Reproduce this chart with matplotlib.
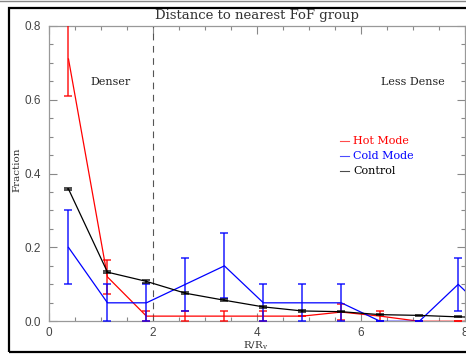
import matplotlib
matplotlib.use("Agg")
import matplotlib.pyplot as plt
from matplotlib.patches import Rectangle
from matplotlib.lines import Line2D
from matplotlib.ticker import MultipleLocator

plt.rcParams['mathtext.fontset'] = 'dejavuserif'

r_bins = [0.375, 1.125, 1.875, 2.625, 3.375, 4.125, 4.875, 5.625, 6.375, 7.125, 7.875, 8.625]

hot_vals = [0.71, 0.12, 0.014, 0.014, 0.014, 0.014, 0.014, 0.025, 0.014, 0.0, 0.0, 0.0]
hot_err = [0.10, 0.045, 0.014, 0.014, 0.014, 0.014, 0.0, 0.022, 0.014, 0.0, 0.0, 0.0]

cold_vals = [0.20, 0.05, 0.05, 0.10, 0.15, 0.05, 0.05, 0.05, 0.0, 0.0, 0.10, 0.0]
cold_err = [0.10, 0.05, 0.05, 0.071, 0.088, 0.05, 0.05, 0.05, 0.0, 0.0, 0.072, 0.0]

ctrl_vals = [0.358, 0.133, 0.108, 0.076, 0.057, 0.039, 0.028, 0.026, 0.018, 0.016, 0.012, 0.010]
ctrl_err = [0.004, 0.003, 0.003, 0.002, 0.002, 0.002, 0.002, 0.002, 0.001, 0.001, 0.001, 0.001]

legend_labels = ["Hot Mode", "Cold Mode", "Control"]
colors = ["#ff0000", "#0000ff", "#000000"]

W, H = 466, 354
fig = plt.figure(figsize=(W/100, H/100), dpi=100)
ax = fig.add_axes([49/W, 1-321.3/H, (464.7-49)/W, (321.3-25.7)/H])

series = [(hot_vals, hot_err), (cold_vals, cold_err), (ctrl_vals, ctrl_err)]
for (vals, errs), c in zip(series, colors):
    ax.plot(r_bins, vals, color=c, lw=0.9, zorder=3)
    ax.errorbar(r_bins, vals, yerr=errs, fmt='none', ecolor=c, elinewidth=1.3,
                capsize=2.8, capthick=1.3, alpha=0.75, zorder=3)

ax.axvline(2, color='#555555', lw=0.8, ls=(0, (6, 5)), zorder=2)

ax.set_xlim(0, 8)
ax.set_ylim(0, 0.8)
ax.xaxis.set_minor_locator(MultipleLocator(0.5))
ax.yaxis.set_minor_locator(MultipleLocator(0.05))
ax.set_xticks([0, 2, 4, 6, 8])
ax.set_xticklabels(["0", "2", "4", "6", "8"])
ax.set_yticks([0.0, 0.2, 0.4, 0.6, 0.8])
ax.set_yticklabels(["0.0", "0.2", "0.4", "0.6", "0.8"])
ax.tick_params(which='both', direction='in', top=True, right=True, color='#888888',
               labelcolor='#444444', labelsize=8.5)
ax.tick_params(which='major', length=6, width=0.8, pad=6)
ax.tick_params(axis='x', which='major', pad=4)
ax.tick_params(which='minor', length=3.2, width=0.8)
for lab in ax.get_xticklabels() + ax.get_yticklabels():
    lab.set_fontfamily('Liberation Sans')
for s in ax.spines.values():
    s.set_color('#999999')
    s.set_linewidth(0.9)

serif = 'DejaVu Serif'
fig.text(257/W, 1-16/H, "Distance to nearest FoF group", fontfamily=serif, fontsize=9.5,
         color='#333333', ha='center', va='center')
fig.text(256/W, 1-345.5/H, "R/R$_{\\rm v}$", fontfamily=serif, fontsize=7.5, color='#333333',
         ha='center', va='center')
fig.text(17/W, 1-170/H, "Fraction", fontfamily=serif, fontsize=7.5, color='#333333',
         ha='center', va='center', rotation=90)

fig.text(90/W, 1-82/H, "Denser", fontsize=8, fontfamily=serif, color='#222222',
         va='center', ha='left')
fig.text(381/W, 1-82/H, "Less Dense", fontsize=8, fontfamily=serif, color='#222222',
         va='center', ha='left')

for i, (lab, c) in enumerate(zip(legend_labels, colors)):
    yy = 1 - (141 + 15*i)/H
    fig.add_artist(Line2D([340/W, 349/W], [yy, yy], color=c, lw=0.8, alpha=0.7))
    fig.text(353/W, yy, lab, fontsize=8, fontfamily=serif, color=c, va='center', ha='left')

# outer frame
fig.add_artist(Line2D([0, 1], [1-1/H, 1-1/H], color='#888888', lw=1.0))
fig.add_artist(Rectangle((8.5/W, 1-352/H), 1.2, (352-8)/H, transform=fig.transFigure,
                         fill=False, edgecolor='black', lw=1.6))

fig.savefig("out.png", dpi=100)
